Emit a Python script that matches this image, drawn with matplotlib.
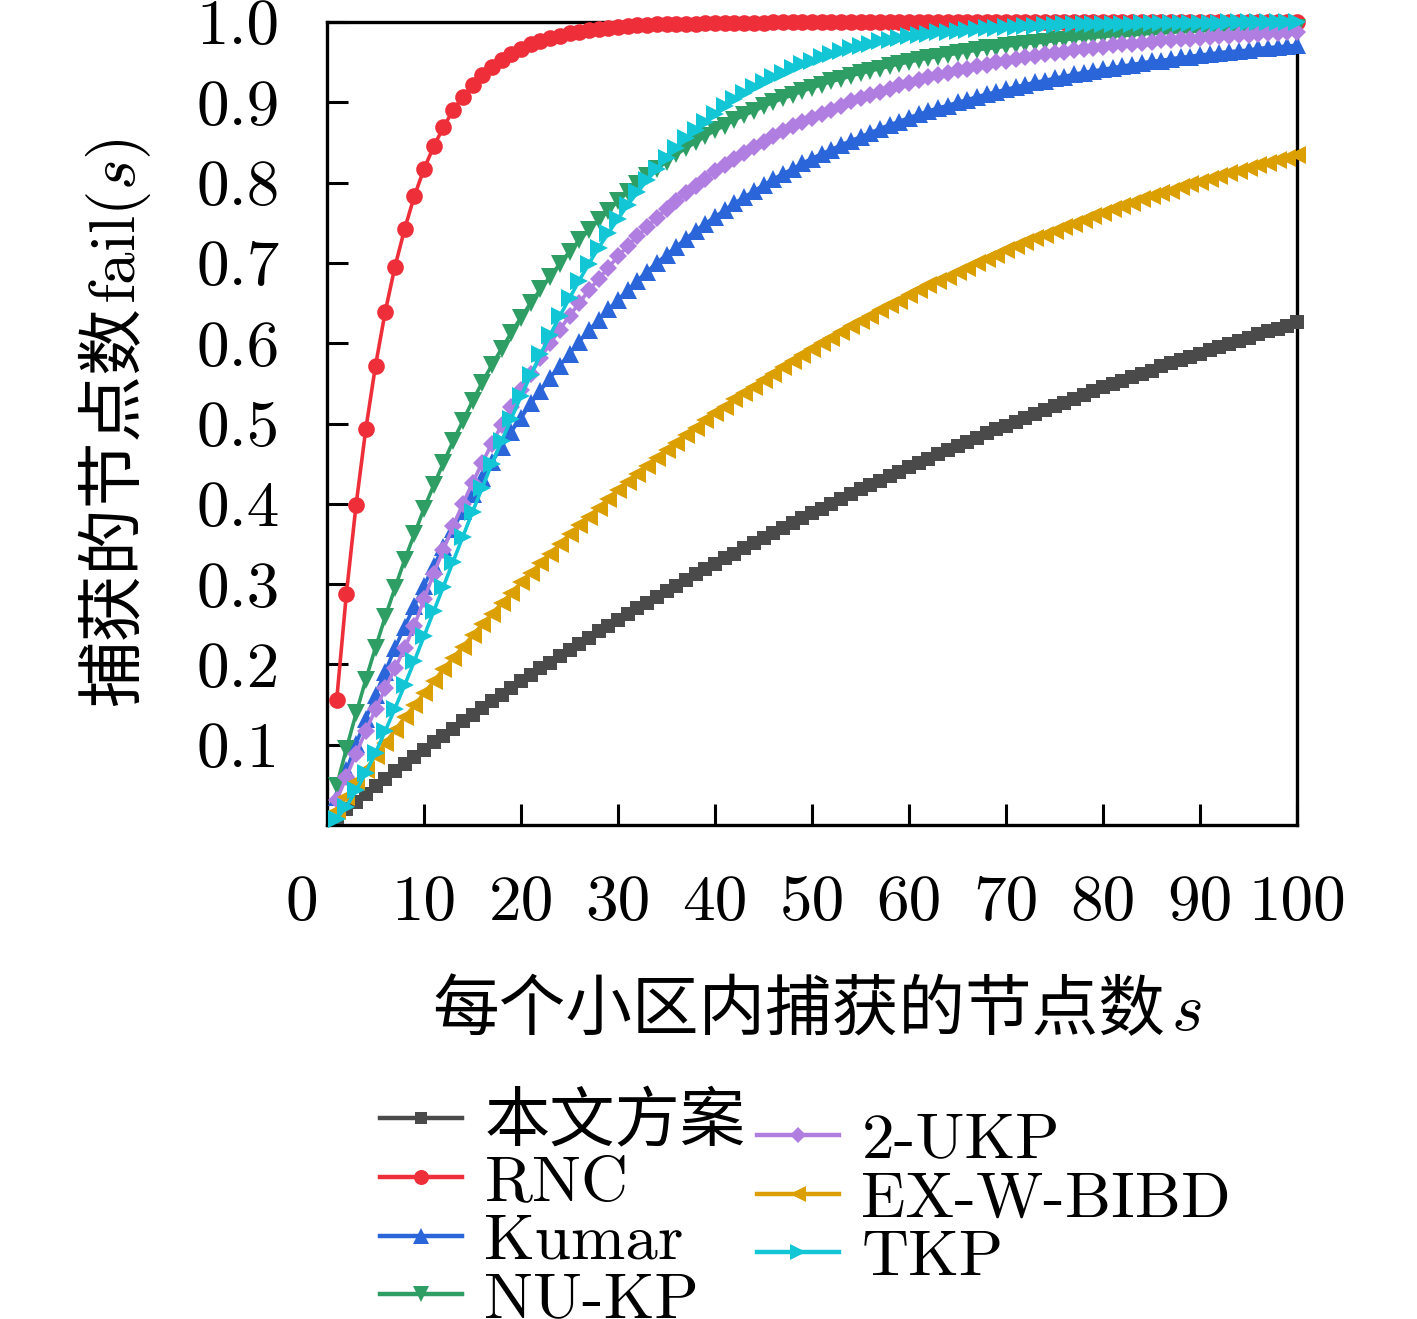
import matplotlib
matplotlib.use('Agg')
import matplotlib.pyplot as plt
from matplotlib.font_manager import FontProperties

plt.rcParams['mathtext.fontset'] = 'cm'

s = list(range(1, 101))

ours = [0.010,0.020,0.029,0.039,0.048,0.057,0.067,0.076,0.085,0.094,
        0.103,0.111,0.120,0.129,0.137,0.146,0.154,0.162,0.170,0.179,
        0.187,0.195,0.202,0.210,0.218,0.226,0.233,0.241,0.248,0.255,
        0.263,0.270,0.277,0.284,0.291,0.298,0.305,0.312,0.319,0.325,
        0.332,0.338,0.345,0.351,0.358,0.364,0.370,0.376,0.382,0.388,
        0.394,0.400,0.406,0.412,0.418,0.423,0.429,0.435,0.440,0.446,
        0.451,0.456,0.462,0.467,0.472,0.477,0.482,0.488,0.493,0.497,
        0.502,0.507,0.512,0.517,0.522,0.526,0.531,0.535,0.540,0.545,
        0.549,0.553,0.558,0.562,0.566,0.571,0.575,0.579,0.583,0.587,
        0.591,0.595,0.599,0.603,0.607,0.611,0.615,0.618,0.622,0.626]

rnc = [0.156,0.288,0.399,0.493,0.572,0.639,0.695,0.742,0.783,0.817,
       0.845,0.869,0.890,0.907,0.921,0.934,0.944,0.953,0.960,0.966,
       0.972,0.976,0.980,0.983,0.986,0.988,0.990,0.991,0.993,0.994,
       0.995,0.996,0.996,0.997,0.997,0.998,0.998,0.998,0.999,0.999,
       0.999,0.999,0.999,0.999,0.999,1.000,1.000,1.000,1.000,1.000,
       1.000,1.000,1.000,1.000,1.000,1.000,1.000,1.000,1.000,1.000,
       1.000,1.000,1.000,1.000,1.000,1.000,1.000,1.000,1.000,1.000,
       1.000,1.000,1.000,1.000,1.000,1.000,1.000,1.000,1.000,1.000,
       1.000,1.000,1.000,1.000,1.000,1.000,1.000,1.000,1.000,1.000,
       1.000,1.000,1.000,1.000,1.000,1.000,1.000,1.000,1.000,1.000]

kumar = [0.035,0.068,0.101,0.132,0.162,0.191,0.220,0.247,0.273,0.298,
         0.323,0.346,0.369,0.391,0.412,0.432,0.452,0.471,0.490,0.507,
         0.525,0.541,0.557,0.572,0.587,0.602,0.616,0.629,0.642,0.654,
         0.666,0.678,0.689,0.700,0.710,0.720,0.730,0.740,0.749,0.757,
         0.766,0.774,0.782,0.789,0.797,0.804,0.811,0.817,0.824,0.830,
         0.836,0.841,0.847,0.852,0.857,0.862,0.867,0.872,0.876,0.881,
         0.885,0.889,0.893,0.896,0.900,0.903,0.907,0.910,0.913,0.916,
         0.919,0.922,0.925,0.927,0.930,0.932,0.935,0.937,0.939,0.941,
         0.943,0.945,0.947,0.949,0.951,0.952,0.954,0.956,0.957,0.959,
         0.960,0.962,0.963,0.964,0.965,0.967,0.968,0.969,0.970,0.971]

nukp = [0.049,0.095,0.139,0.181,0.221,0.259,0.295,0.330,0.362,0.394,
        0.423,0.451,0.478,0.503,0.528,0.551,0.573,0.593,0.613,0.632,
        0.650,0.667,0.683,0.699,0.714,0.728,0.741,0.753,0.765,0.777,
        0.788,0.798,0.808,0.817,0.826,0.835,0.843,0.850,0.858,0.865,
        0.871,0.878,0.884,0.889,0.895,0.900,0.905,0.909,0.914,0.918,
        0.922,0.926,0.929,0.933,0.936,0.939,0.942,0.945,0.948,0.950,
        0.953,0.955,0.957,0.959,0.961,0.963,0.965,0.967,0.968,0.970,
        0.971,0.973,0.974,0.975,0.977,0.978,0.979,0.980,0.981,0.982,
        0.983,0.983,0.984,0.985,0.986,0.986,0.987,0.988,0.988,0.989,
        0.989,0.990,0.990,0.991,0.991,0.992,0.992,0.993,0.993,0.993]

ukp2 = [0.031,0.060,0.089,0.117,0.144,0.170,0.195,0.220,0.248,0.281,
        0.313,0.343,0.372,0.400,0.426,0.451,0.475,0.498,0.521,0.542,
        0.562,0.581,0.600,0.617,0.634,0.650,0.666,0.680,0.694,0.708,
        0.721,0.733,0.745,0.756,0.767,0.777,0.787,0.796,0.805,0.814,
        0.822,0.830,0.837,0.844,0.851,0.858,0.864,0.870,0.876,0.881,
        0.886,0.891,0.896,0.901,0.905,0.909,0.913,0.917,0.921,0.924,
        0.928,0.931,0.934,0.937,0.940,0.942,0.945,0.947,0.950,0.952,
        0.954,0.956,0.958,0.960,0.961,0.963,0.965,0.966,0.968,0.969,
        0.971,0.972,0.973,0.974,0.975,0.977,0.978,0.979,0.979,0.980,
        0.981,0.982,0.983,0.984,0.984,0.985,0.986,0.986,0.987,0.988]

exwbibd = [0.018,0.035,0.053,0.069,0.086,0.102,0.118,0.134,0.149,0.164,
           0.179,0.194,0.208,0.222,0.236,0.250,0.263,0.276,0.289,0.302,
           0.314,0.326,0.338,0.350,0.362,0.373,0.384,0.395,0.406,0.417,
           0.427,0.437,0.447,0.457,0.467,0.476,0.486,0.495,0.504,0.513,
           0.521,0.530,0.538,0.546,0.554,0.562,0.570,0.578,0.585,0.593,
           0.600,0.607,0.614,0.621,0.628,0.634,0.641,0.647,0.653,0.660,
           0.666,0.672,0.677,0.683,0.689,0.694,0.700,0.705,0.710,0.716,
           0.721,0.726,0.731,0.735,0.740,0.745,0.749,0.754,0.758,0.762,
           0.767,0.771,0.775,0.779,0.783,0.787,0.790,0.794,0.798,0.801,
           0.805,0.808,0.812,0.815,0.818,0.822,0.825,0.828,0.831,0.834]

tkp = [0.008,0.023,0.043,0.065,0.090,0.117,0.145,0.174,0.204,0.235,
       0.266,0.297,0.328,0.359,0.390,0.420,0.450,0.478,0.506,0.534,
       0.560,0.586,0.610,0.634,0.656,0.678,0.699,0.719,0.737,0.755,
       0.772,0.788,0.803,0.817,0.831,0.843,0.855,0.866,0.876,0.886,
       0.895,0.904,0.911,0.919,0.925,0.932,0.937,0.943,0.948,0.952,
       0.957,0.960,0.964,0.967,0.970,0.973,0.976,0.978,0.980,0.982,
       0.984,0.985,0.987,0.988,0.989,0.990,0.991,0.992,0.993,0.994,
       0.994,0.995,0.995,0.996,0.996,0.997,0.997,0.997,0.998,0.998,
       0.998,0.998,0.998,0.999,0.999,0.999,0.999,0.999,0.999,0.999,
       0.999,0.999,1.000,1.000,1.000,1.000,1.000,1.000,1.000,1.000]

labels = ['本文方案', 'RNC', 'Kumar', 'NU-KP', '2-UKP', 'EX-W-BIBD', 'TKP']
series = [ours, rnc, kumar, nukp, ukp2, exwbibd, tkp]
colors = ['#4a4a4a', '#ee2f3a', '#2a66da', '#2e9e64', '#b07ee0', '#dba000', '#12c6d6']
markers = ['s', 'o', '^', 'v', 'D', '<', '>']
msizes = [9.5, 12, 12.5, 12.5, 9.5, 12.5, 12.5]

xticks = [10, 20, 30, 40, 50, 60, 70, 80, 90, 100]
yticks = [0.1, 0.2, 0.3, 0.4, 0.5, 0.6, 0.7, 0.8, 0.9, 1.0]
ytick_labels = ['0.1', '0.2', '0.3', '0.4', '0.5', '0.6', '0.7', '0.8', '0.9', '1.0']

W, H = 1417, 1319
fig = plt.figure(figsize=(W / 100, H / 100), dpi=100)
fig.patch.set_facecolor('white')
ax = fig.add_axes([327 / W, 1 - 825 / H, 970 / W, 803 / H])

handles = []
for ys, lab, c, m, ms in zip(series, labels, colors, markers, msizes):
    ln, = ax.plot(s, ys, color=c, marker=m, markersize=ms, markeredgewidth=0,
                  linewidth=2.6, label=lab, clip_on=False)
    handles.append(ln)

ax.set_xlim(0, 100)
ax.set_ylim(0, 1.0)
for sp in ax.spines.values():
    sp.set_linewidth(2.4)
    sp.set_zorder(1)

FS = 47
ax.set_xticks(xticks, [str(v) for v in xticks], fontfamily='cmr10', fontsize=FS)
ax.set_yticks(yticks, ytick_labels, fontfamily='cmr10', fontsize=FS)
ax.tick_params(axis='both', direction='in', length=15, width=2.2)
ax.tick_params(axis='x', pad=36)
ax.tick_params(axis='y', pad=34)
ax.annotate('0', xy=(0, 0), xycoords='axes fraction', xytext=(-25, -36 * 100 / 72),
            textcoords='offset pixels', ha='center', va='top',
            fontfamily='cmr10', fontsize=FS)

# x label
cjk = 'Noto Sans CJK SC'
xl1 = fig.text(432 / W, 1 - 1030 / H, '每个小区内捕获的节点数', fontfamily=cjk,
               fontsize=48, ha='left', va='baseline')
fig.canvas.draw()
r = fig.canvas.get_renderer()
bb = xl1.get_window_extent(r)
fig.text((bb.x1 + 6) / W, 1 - 1030 / H, '$s$', fontsize=FS + 2,
         ha='left', va='baseline')

# y label
yl1 = fig.text(133 / W, 1 - 706 / H, '捕获的节点数', fontfamily=cjk, fontsize=48,
               rotation=90, rotation_mode='anchor', ha='left', va='baseline')
fig.canvas.draw()
bb = yl1.get_window_extent(r)
fig.text(135 / W, (bb.y1 + 2) / H, 'fail($s$)', fontfamily='cmr10', fontsize=FS,
         rotation=90, rotation_mode='anchor', ha='left', va='baseline')

lprop = FontProperties(family=['cmr10', cjk], size=FS)
lkw = dict(frameon=False, prop=lprop, handlelength=1.25, handletextpad=0.35,
           labelspacing=0.0, borderpad=0, borderaxespad=0, markerscale=0.9)
leg1 = fig.legend(handles[:4], labels[:4], loc='upper left',
                  bbox_to_anchor=(380 / W, 1 - 1093 / H), **lkw)
leg2 = fig.legend(handles[4:], labels[4:], loc='upper left',
                  bbox_to_anchor=(757 / W, 1 - 1112 / H), **lkw)
for lg in (leg1, leg2):
    for h in lg.legend_handles:
        h.set_linewidth(3.2)

fig.savefig('out.png', dpi=100, facecolor='white')
